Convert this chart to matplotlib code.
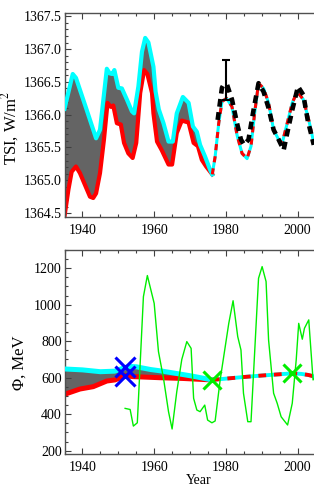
import matplotlib
matplotlib.use("Agg")
import matplotlib.pyplot as plt
from matplotlib.ticker import MultipleLocator, FormatStrFormatter
import numpy as np

plt.rcParams['font.family'] = ['Liberation Serif', 'DejaVu Serif']
plt.rcParams['mathtext.fontset'] = 'stix'

# ---- top panel: TSI reconstructions (W/m^2) ----
tsi_hi_years = [1935.0, 1937.3, 1938.2, 1941.2, 1943.8, 1944.9, 1946.8, 1947.6, 1948.3, 1948.9,
                1950.0, 1951.0, 1952.4, 1953.8, 1954.4, 1955.6, 1956.6, 1957.5, 1958.4, 1959.8,
                1960.4, 1961.3, 1962.6, 1964.0, 1965.2, 1966.3, 1968.0, 1969.6, 1970.8, 1971.9,
                1972.8, 1974.2, 1975.6, 1976.2]
tsi_hi = [1366.09, 1366.62, 1366.56, 1366.07, 1365.64, 1365.77, 1366.70, 1366.63, 1366.62, 1366.68,
          1366.41, 1366.40, 1366.23, 1366.05, 1366.02, 1366.43, 1366.96, 1367.17, 1367.10, 1366.73,
          1366.35, 1366.08, 1365.87, 1365.59, 1365.59, 1366.02, 1366.27, 1366.18, 1365.82, 1365.74,
          1365.54, 1365.36, 1365.16, 1365.09]

tsi_lo_years = [1935.0, 1936.1, 1937.0, 1938.2, 1939.3, 1940.7, 1942.1, 1943.0, 1943.8, 1944.9,
                1946.0, 1947.0, 1947.9, 1948.6, 1949.6, 1950.7, 1951.6, 1952.8, 1954.0, 1955.0,
                1956.1, 1957.2, 1958.1, 1959.4, 1959.8, 1960.8, 1962.1, 1964.0, 1965.0, 1966.3,
                1967.7, 1969.6, 1971.0, 1972.2, 1973.3, 1974.5, 1976.2]
tsi_lo = [1364.45, 1364.86, 1365.13, 1365.21, 1365.11, 1364.93, 1364.75, 1364.73, 1364.80, 1365.11,
          1365.62, 1366.18, 1366.12, 1366.14, 1365.87, 1365.85, 1365.57, 1365.41, 1365.34, 1365.57,
          1366.33, 1366.68, 1366.62, 1366.33, 1366.02, 1365.59, 1365.46, 1365.24, 1365.24, 1365.72,
          1365.91, 1365.88, 1365.57, 1365.52, 1365.31, 1365.21, 1365.09]

tsi_mod_years = [1976.2, 1977.0, 1978.0, 1978.9, 1980.2, 1981.7, 1983.1, 1984.5, 1985.9, 1987.0,
                 1988.0, 1989.1, 1990.5, 1991.9, 1993.3, 1994.7, 1995.7, 1997.1, 1998.5, 1999.9,
                 2001.6, 2003.1, 2004.5]
tsi_mod = [1365.09, 1365.36, 1365.87, 1366.20, 1366.25, 1366.12, 1365.69, 1365.41, 1365.33, 1365.52,
           1366.02, 1366.48, 1366.40, 1366.18, 1365.77, 1365.62, 1365.57, 1365.87, 1366.18, 1366.35,
           1366.23, 1365.92, 1365.57]

tsi_obs_years = [1977.7, 1978.9, 1979.4, 1980.3, 1981.7, 1983.1, 1984.2, 1985.1, 1986.3, 1987.7,
                 1989.1, 1990.5, 1991.9, 1993.3, 1994.7, 1996.1, 1997.1, 1998.5, 2000.1, 2001.6,
                 2002.8, 2004.5]
tsi_obs = [1365.92, 1366.41, 1366.46, 1366.46, 1366.23, 1365.87, 1365.62, 1365.54, 1365.62, 1366.07,
           1366.48, 1366.35, 1366.10, 1365.77, 1365.62, 1365.46, 1365.72, 1366.07, 1366.43, 1366.30,
           1365.92, 1365.54]

err_year = 1980.1
err_val = 1366.53
err_size = 0.3

# ---- bottom panel: modulation potential (MeV) ----
phi_hi_years = [1935, 1940, 1945, 1949, 1951, 1953, 1955, 1959, 1962, 1966, 1970, 1973, 1976.1]
phi_hi = [648, 643, 633, 636, 650, 662, 660, 645, 637, 624, 611, 600, 588]
phi_lo_years = [1935, 1939.3, 1943.0, 1946.8, 1949.1, 1951.9, 1954.2, 1961.7, 1968, 1976.1]
phi_lo = [509, 538, 551, 582, 588, 611, 606, 600, 596, 588]

phi_mod_years = [1976.1, 1980, 1985, 1990, 1995, 1998.5, 2001, 2003, 2004.6]
phi_mod = [588, 595, 604, 612, 619, 624, 621, 615, 607]

nm_years = [1951.9, 1953.3, 1954.2, 1955.3, 1957.0, 1958.1, 1960.0, 1961.2, 1962.6, 1964.0,
            1965.0, 1966.3, 1967.7, 1969.1, 1970.3, 1971.0, 1971.9, 1972.8, 1974.1, 1974.9,
            1976.1, 1977.0, 1978.4, 1980.8, 1982.0, 1983.3, 1984.2, 1984.9, 1986.1, 1987.0,
            1989.1, 1990.1, 1991.2, 1991.9, 1993.3, 1994.3, 1995.4, 1997.2, 1998.5, 1999.6,
            2000.3, 2001.3, 2001.9, 2003.1, 2004.3, 2004.8]
nm_phi = [432, 426, 335, 353, 1044, 1160, 1008, 743, 597, 414,
          319, 523, 700, 798, 761, 487, 423, 414, 450, 368,
          353, 363, 588, 898, 1022, 825, 752, 515, 359, 359,
          1145, 1209, 1127, 807, 515, 460, 386, 341, 460, 697,
          898, 811, 871, 917, 588, 600]

blue_x_years = [1951.9, 1951.9]
blue_x_phi = [659, 610]
green_x_years = [1976.1, 1998.5]
green_x_phi = [588, 624]

CYAN = '#00FFFF'
RED = '#FF0000'
GRAY = '#646464'
GREEN = '#00EE00'


def style_axes(ax):
    ax.set_xlim(1935, 2010)
    ax.xaxis.set_major_locator(MultipleLocator(20))
    ax.xaxis.set_minor_locator(MultipleLocator(5))
    ax.tick_params(which='both', direction='in', top=True, right=True, labelsize=10,
                   color='#404040')
    ax.tick_params(which='major', length=4, width=0.8)
    ax.tick_params(which='minor', length=2.2, width=0.8)
    ax.tick_params(axis='y', pad=2)
    ax.tick_params(axis='x', pad=5)
    for sp in ax.spines.values():
        sp.set_color('#505050')
        sp.set_linewidth(1.0)


fig = plt.figure(figsize=(3.14, 4.86), dpi=100)
W = 314.0
H = 486.0
ax1 = fig.add_axes([64.5 / W, 1 - 217 / H, 269 / W, 204 / H])
ax2 = fig.add_axes([64.5 / W, 1 - 454 / H, 269 / W, 204 / H])

# top panel
ax1.fill(np.r_[tsi_hi_years, tsi_lo_years[::-1]], np.r_[tsi_hi, tsi_lo[::-1]],
         color=GRAY, lw=0, zorder=1)
ax1.plot(tsi_lo_years, tsi_lo, color=RED, lw=3, solid_joinstyle='round', zorder=2)
ax1.plot(tsi_hi_years, tsi_hi, color=CYAN, lw=3, solid_joinstyle='round', zorder=3)
ax1.plot(tsi_mod_years, tsi_mod, color=CYAN, lw=2.2, zorder=3)
ax1.plot(tsi_mod_years, tsi_mod, color=RED, lw=2.2, ls=(0, (2, 2)), zorder=4)
ax1.plot(tsi_obs_years, tsi_obs, color='black', lw=3.3, ls=(0, (1.7, 1.2)), zorder=5)
ax1.errorbar([err_year], [err_val], yerr=[err_size], color='black', lw=1.5,
             capsize=3, capthick=1.5, zorder=6)
ax1.set_ylim(1364.44, 1367.55)
ax1.yaxis.set_major_locator(MultipleLocator(0.5))
ax1.yaxis.set_minor_locator(MultipleLocator(0.1))
ax1.yaxis.set_major_formatter(FormatStrFormatter('%.1f'))
style_axes(ax1)
ax1.set_ylabel('TSI, W/m$^2$', fontsize=12)
ax1.yaxis.set_label_coords(-0.163, 0.436)

# bottom panel
ax2.fill(np.r_[phi_hi_years, phi_lo_years[::-1]], np.r_[phi_hi, phi_lo[::-1]],
         color=GRAY, lw=0, zorder=1)
ax2.plot(phi_lo_years, phi_lo, color=RED, lw=3.6, zorder=2)
ax2.plot(phi_hi_years, phi_hi, color=CYAN, lw=3.6, zorder=3)
ax2.plot(phi_mod_years, phi_mod, color=CYAN, lw=2.8, zorder=3)
ax2.plot(phi_mod_years, phi_mod, color=RED, lw=2.8, ls=(0, (2, 2)), zorder=4)
ax2.plot(nm_years, nm_phi, color=GREEN, lw=1.0, zorder=5)
ax2.plot(blue_x_years, blue_x_phi, ls='none', marker='x', ms=14, mew=2.2,
         color='#0000FF', zorder=6)
ax2.plot(green_x_years, green_x_phi, ls='none', marker='x', ms=13, mew=2.2,
         color=GREEN, zorder=6)
ax2.set_ylim(182, 1300)
ax2.yaxis.set_major_locator(MultipleLocator(200))
ax2.yaxis.set_minor_locator(MultipleLocator(50))
style_axes(ax2)
ax2.set_ylabel('\u03a6, MeV', fontsize=12)
ax2.yaxis.set_label_coords(-0.136, 0.446)
ax2.set_xlabel('Year', fontsize=10)
ax2.xaxis.set_label_coords(0.5, -0.098)

fig.savefig('out.png', dpi=100)
